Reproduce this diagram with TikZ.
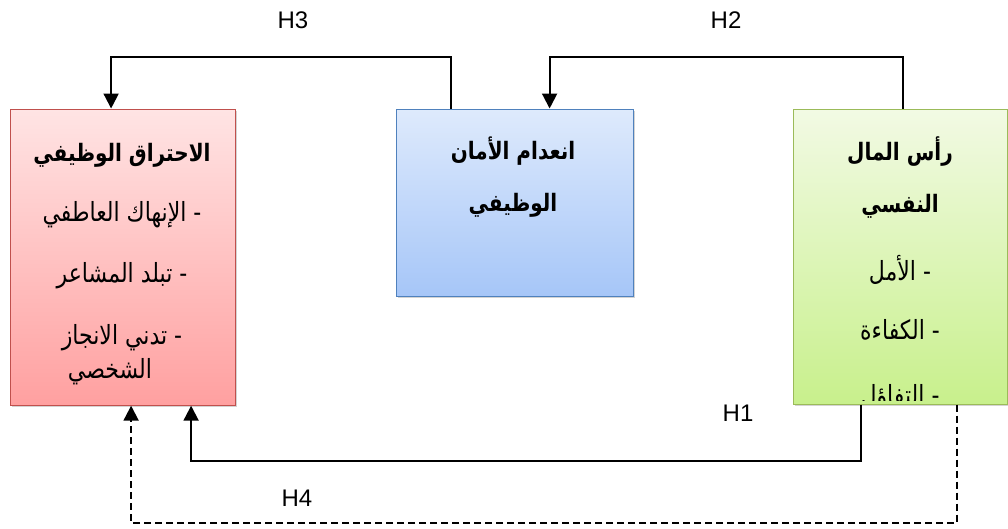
\documentclass[tikz,border=0pt]{standalone}
\usepackage{fontspec}
\setmainfont{Liberation Sans}
\newfontfamily\arabicfont[Script=Arabic]{DejaVu Sans}
\TeXXeTstate=1
\usetikzlibrary{arrows.meta,shadows,calc}
\definecolor{redtop}{RGB}{255,228,228}
\definecolor{redbot}{RGB}{255,160,160}
\definecolor{redline}{RGB}{192,80,77}
\definecolor{bluetop}{RGB}{222,234,252}
\definecolor{bluebot}{RGB}{166,198,248}
\definecolor{blueline}{RGB}{79,129,189}
\definecolor{greentop}{RGB}{242,250,228}
\definecolor{greenbot}{RGB}{200,240,140}
\definecolor{greenline}{RGB}{155,187,89}
\newcommand{\artxt}[1]{\scalebox{1}[1.2]{\beginR #1\endR}}
\begin{document}
\begin{tikzpicture}[x=1pt,y=-1pt,
  boxstyle/.style={draw,line width=1.2pt,shading=axis,inner sep=0pt,
    drop shadow={shadow xshift=2pt,shadow yshift=-2pt,opacity=0.35}},
  ttl/.style={font=\arabicfont\bfseries\fontsize{20}{24}\selectfont,inner sep=0pt},
  itm/.style={font=\arabicfont\fontsize{22}{26}\selectfont,inner sep=0pt},
  hlab/.style={font=\fontsize{24}{26}\selectfont,inner sep=0pt},
  conn/.style={line width=2pt,-{Triangle[length=15pt,width=15pt]}},
  dconn/.style={conn,dash pattern=on 7pt off 4pt}]
\useasboundingbox (0,0) rectangle (1008,528);
% boxes
\node[boxstyle,draw=redline,top color=redtop,bottom color=redbot,
  minimum width=225pt,minimum height=296pt,anchor=north west] (red) at (9.5,108.5) {};
\node[boxstyle,draw=blueline,top color=bluetop,bottom color=bluebot,
  minimum width=237pt,minimum height=187pt,anchor=north west] (blue) at (395.5,108.5) {};
\node[boxstyle,draw=greenline,top color=greentop,bottom color=greenbot,
  minimum width=214pt,minimum height=295pt,anchor=north west] (green) at (792.5,108.5) {};
% red texts
\node[ttl] (r1) at (122,155) {\artxt{الاحتراق الوظيفي}};
\node[itm] (r2) at (122,215) {\artxt{- الإنهاك العاطفي}};
\node[itm] (r3) at (122,276) {\artxt{- تبلد المشاعر}};
\node[itm] (r4) at (122,338) {\artxt{- تدني الانجاز}};
\node[itm] (r5) at (110,372) {\artxt{الشخصي}};
% blue texts
\node[ttl] (b1) at (513,151) {\artxt{انعدام الأمان}};
\node[ttl] (b2) at (513,205) {\artxt{الوظيفي}};
% green texts
\node[ttl] (g1) at (900,152) {\artxt{رأس المال}};
\node[ttl] (g2) at (900,206) {\artxt{النفسي}};
\node[itm] (g3) at (900,270) {\artxt{- الأمل}};
\node[itm] (g4) at (900,330) {\artxt{- الكفاءة}};
\begin{scope}
\clip (793,110) rectangle (1006,400);
\node[itm] (g5) at (900,398) {\artxt{- التفاؤل}};
\end{scope}
% labels
\node[hlab] (h3) at (293,20) {H3};
\node[hlab] (h2) at (726,20) {H2};
\node[hlab] (h1) at (738,413) {H1};
\node[hlab] (h4) at (297,498) {H4};
% connectors
\draw[conn] ([xshift=-63.5pt]blue.north) -- ++(0,-52) -| ([xshift=-11.5pt]red.north);
\draw[conn] ([xshift=3pt]green.north) -- ++(0,-52) -| ([xshift=35pt]blue.north);
\draw[conn] ([xshift=-39pt]green.south) -- ++(0,56) -| ([xshift=68.5pt]red.south);
\draw[dconn] ([xshift=57pt]green.south) -- ++(0,118) -| ([xshift=8.5pt]red.south);
\end{tikzpicture}
\end{document}
